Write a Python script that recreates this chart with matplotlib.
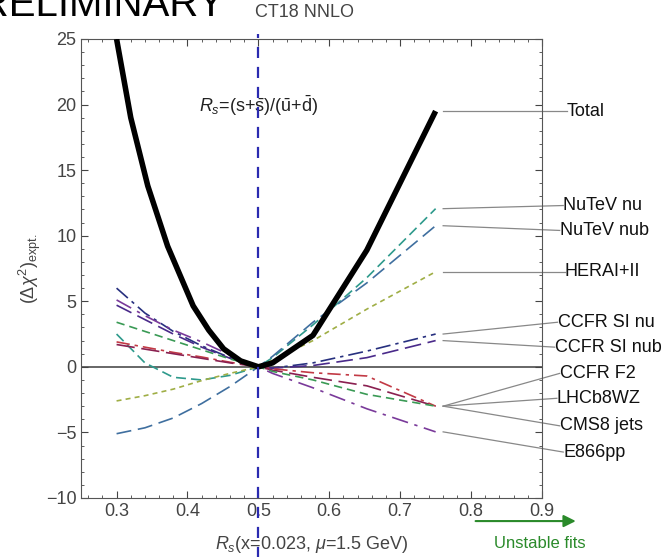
import numpy as np
import matplotlib
matplotlib.use("Agg")
import matplotlib.pyplot as plt

plt.rcParams['font.family'] = ['Liberation Sans', 'DejaVu Sans']
plt.rcParams['mathtext.fontset'] = 'custom'
plt.rcParams['mathtext.rm'] = 'Liberation Sans'
plt.rcParams['mathtext.it'] = 'Liberation Sans:italic'

# ============================================================
# DATA
# ============================================================
total_x = [0.30, 0.32, 0.344, 0.372, 0.408, 0.43, 0.451, 0.475, 0.489,
           0.50, 0.52, 0.577, 0.653, 0.75]
total   = [25.0, 19.0, 13.8, 9.2, 4.65, 2.8, 1.37, 0.45, 0.2,
           0.0, 0.3, 2.4, 8.9, 19.5]

rs = [0.30, 0.34, 0.38, 0.42, 0.46, 0.50, 0.52, 0.577, 0.653, 0.75]

nutev_nu    = [2.5, 0.3, -0.8, -1.0, -0.65, 0.0, 0.7, 3.2, 6.8, 12.06]
nutev_nub   = [-5.1, -4.65, -3.9, -2.8, -1.5, 0.0, 0.8, 3.4, 6.4, 10.76]
hera        = [-2.6, -2.2, -1.7, -1.05, -0.5, 0.0, 0.5, 2.0, 4.4, 7.25]
ccfr_si_nu  = [6.0, 4.1, 2.7, 1.6, 0.7, 0.0, -0.1, 0.3, 1.2, 2.5]
ccfr_si_nub = [4.7, 3.6, 2.5, 1.5, 0.65, 0.0, -0.1, 0.1, 0.7, 2.0]
ccfr_f2     = [1.9, 1.5, 1.1, 0.75, 0.35, 0.0, -0.15, -0.45, -0.7, -3.0]
lhcb8wz     = [1.7, 1.35, 1.0, 0.65, 0.3, 0.0, -0.25, -0.8, -1.45, -3.0]
cms8_jets   = [3.4, 2.7, 2.0, 1.3, 0.6, 0.0, -0.35, -1.0, -2.1, -3.0]
e866pp      = [5.1, 3.9, 2.8, 1.9, 0.9, 0.0, -0.5, -1.6, -3.2, -4.96]

labels   = ["Total", "NuTeV nu", "NuTeV nub", "HERAI+II", "CCFR SI nu",
            "CCFR SI nub", "CCFR F2", "LHCb8WZ", "CMS8 jets", "E866pp"]
label_y  = [19.5, 12.3, 10.4, 7.25, 3.4, 1.5, -0.5, -2.4, -4.5, -6.5]
curves   = [total, nutev_nu, nutev_nub, hera, ccfr_si_nu,
            ccfr_si_nub, ccfr_f2, lhcb8wz, cms8_jets, e866pp]

# where each label text starts (data x, outside the frame)
label_x  = [0.935, 0.930, 0.925, 0.932, 0.922, 0.918, 0.925, 0.921, 0.925, 0.930]

colors = ["black", "#2e9a8c", "#3f6f9f", "#9fae45", "#27307f",
          "#4a2a8a", "#c23a45", "#8a2050", "#3a9a55", "#7a3a9a"]
dashes = [None, (6, 3), (9, 4), (3, 2.5), (9, 3, 2, 3),
          (10, 4), (8, 3, 2, 3), (11, 4), (5, 3), (10, 4, 2, 4)]

# ============================================================
# FIGURE
# ============================================================
fig = plt.figure(figsize=(6.65, 5.57), dpi=100)
ax = fig.add_axes([0.122, 0.106, 0.693, 0.824])

ax.axhline(0, color="#666666", lw=1.4, zorder=1)

# colored curves first, Total on top
for c, col, d in list(zip(curves, colors, dashes))[1:]:
    ax.plot(rs, c, color=col, lw=1.2, dashes=d, zorder=2)
ax.plot(total_x, total, color="black", lw=4, zorder=3,
        solid_capstyle="butt", solid_joinstyle="round")

# vertical marker at Rs = 0.5, running past the frame
ax.plot([0.5, 0.5], [-14.6, 25.4], color="#2a2ab0", lw=1.6,
        dashes=(5, 4), clip_on=False, zorder=4)

# label connectors
x_end = rs[-1] + 0.0106
for c, lab, lx, ly in zip(curves, labels, label_x, label_y):
    ax.plot([x_end, lx], [c[-1], ly], color="#888888", lw=0.9,
            clip_on=False)
    ax.text(lx, ly, lab, fontsize=13, va="center", ha="left",
            color="#111111", clip_on=False)

ax.text(0.5, 19.9, r"$R_s$=(s+$\mathrm{\bar{s}}$)/($\mathrm{\bar{u}}$+$\mathrm{\bar{d}}$)",
        fontsize=13, ha="center", va="center", color="#222222")

ax.set_xlim(0.25, 0.9)
ax.set_ylim(-10, 25)
ax.set_xticks([0.3, 0.4, 0.5, 0.6, 0.7, 0.8, 0.9])
ax.set_xticks(np.arange(0.26, 0.9, 0.02), minor=True)
ax.set_yticks([-10, -5, 0, 5, 10, 15, 20, 25])
ax.set_yticks(np.arange(-10, 25, 1), minor=True)
ax.tick_params(which="both", direction="in", top=True, right=True,
               labelsize=13, labelcolor="#444444", color="#444444")
ax.tick_params(which="major", length=5)
ax.tick_params(which="minor", length=2.5)
for s in ax.spines.values():
    s.set_color("#555555")

ax.set_ylabel(r"$(\Delta\chi^2)_{\mathrm{expt.}}$", fontsize=13,
              color="#444444", labelpad=2)
ax.set_xlabel(r"$R_s$(x=0.023, $\mu$=1.5 GeV)", fontsize=13,
              color="#444444", labelpad=10)

fig.text(0.458, 0.978, "CT18 NNLO", fontsize=13, ha="center", va="center",
         color="#444444")
fig.text(0.338, 0.971, "PRELIMINARY", fontsize=29, ha="right",
         va="baseline", color="black")

# "unstable fits" arrow
ax.annotate("", xy=(0.87, 0.0645), xytext=(0.711, 0.0645),
            xycoords="figure fraction", textcoords="figure fraction",
            arrowprops=dict(arrowstyle="-|>", color="#2a8a2a", lw=1.5,
                            mutation_scale=18))
fig.text(0.812, 0.025, "Unstable fits", fontsize=12, ha="center",
         va="center", color="#2a8a2a")

fig.savefig("out.png", dpi=100)
